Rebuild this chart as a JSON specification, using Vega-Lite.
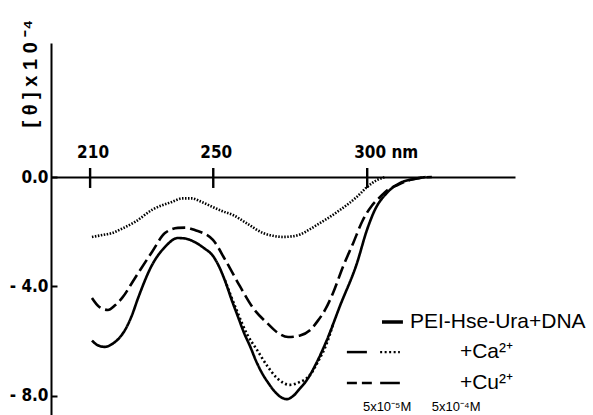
{
  "$schema": "https://vega.github.io/schema/vega-lite/v6.json",
  "width": 464,
  "height": 372,
  "autosize": "none",
  "padding": {"left": 51, "top": 43, "right": 78, "bottom": 0},
  "background": "white",
  "config": {"view": {"stroke": null}},
  "layer": [
    {
      "data": {"values": [
        {"series": "PEI-Hse-Ura+DNA", "nm": 210.6, "v": -5.98},
        {"series": "PEI-Hse-Ura+DNA", "nm": 212.5, "v": -6.15},
        {"series": "PEI-Hse-Ura+DNA", "nm": 214.8, "v": -6.21},
        {"series": "PEI-Hse-Ura+DNA", "nm": 217.5, "v": -6.08},
        {"series": "PEI-Hse-Ura+DNA", "nm": 219.5, "v": -5.88},
        {"series": "PEI-Hse-Ura+DNA", "nm": 221.3, "v": -5.6},
        {"series": "PEI-Hse-Ura+DNA", "nm": 223.5, "v": -5.08},
        {"series": "PEI-Hse-Ura+DNA", "nm": 225.6, "v": -4.42},
        {"series": "PEI-Hse-Ura+DNA", "nm": 230.1, "v": -3.22},
        {"series": "PEI-Hse-Ura+DNA", "nm": 234.3, "v": -2.56},
        {"series": "PEI-Hse-Ura+DNA", "nm": 238.5, "v": -2.23},
        {"series": "PEI-Hse-Ura+DNA", "nm": 241, "v": -2.25},
        {"series": "PEI-Hse-Ura+DNA", "nm": 244, "v": -2.38},
        {"series": "PEI-Hse-Ura+DNA", "nm": 247, "v": -2.6},
        {"series": "PEI-Hse-Ura+DNA", "nm": 250, "v": -2.9},
        {"series": "PEI-Hse-Ura+DNA", "nm": 252, "v": -3.3},
        {"series": "PEI-Hse-Ura+DNA", "nm": 254, "v": -3.85},
        {"series": "PEI-Hse-Ura+DNA", "nm": 256, "v": -4.5},
        {"series": "PEI-Hse-Ura+DNA", "nm": 258, "v": -5.1},
        {"series": "PEI-Hse-Ura+DNA", "nm": 260, "v": -5.7},
        {"series": "PEI-Hse-Ura+DNA", "nm": 262, "v": -6.2},
        {"series": "PEI-Hse-Ura+DNA", "nm": 264, "v": -6.75},
        {"series": "PEI-Hse-Ura+DNA", "nm": 266, "v": -7.2},
        {"series": "PEI-Hse-Ura+DNA", "nm": 268, "v": -7.55},
        {"series": "PEI-Hse-Ura+DNA", "nm": 270, "v": -7.85},
        {"series": "PEI-Hse-Ura+DNA", "nm": 272, "v": -8.05},
        {"series": "PEI-Hse-Ura+DNA", "nm": 274, "v": -8.12},
        {"series": "PEI-Hse-Ura+DNA", "nm": 276, "v": -8.0},
        {"series": "PEI-Hse-Ura+DNA", "nm": 278, "v": -7.75},
        {"series": "PEI-Hse-Ura+DNA", "nm": 280.4, "v": -7.42},
        {"series": "PEI-Hse-Ura+DNA", "nm": 283.5, "v": -6.8},
        {"series": "PEI-Hse-Ura+DNA", "nm": 286.9, "v": -5.96},
        {"series": "PEI-Hse-Ura+DNA", "nm": 291.2, "v": -4.7},
        {"series": "PEI-Hse-Ura+DNA", "nm": 296.7, "v": -3.14},
        {"series": "PEI-Hse-Ura+DNA", "nm": 299.9, "v": -1.94},
        {"series": "PEI-Hse-Ura+DNA", "nm": 302.5, "v": -1.2},
        {"series": "PEI-Hse-Ura+DNA", "nm": 306.4, "v": -0.58},
        {"series": "PEI-Hse-Ura+DNA", "nm": 310.6, "v": -0.22},
        {"series": "PEI-Hse-Ura+DNA", "nm": 314.9, "v": -0.08},
        {"series": "PEI-Hse-Ura+DNA", "nm": 319, "v": 0},

        {"series": "+Cu2+ 5x10-4M", "nm": 210.6, "v": -4.42},
        {"series": "+Cu2+ 5x10-4M", "nm": 213, "v": -4.75},
        {"series": "+Cu2+ 5x10-4M", "nm": 215.8, "v": -4.86},
        {"series": "+Cu2+ 5x10-4M", "nm": 218, "v": -4.7},
        {"series": "+Cu2+ 5x10-4M", "nm": 220.4, "v": -4.42},
        {"series": "+Cu2+ 5x10-4M", "nm": 224.6, "v": -3.69},
        {"series": "+Cu2+ 5x10-4M", "nm": 230.1, "v": -2.74},
        {"series": "+Cu2+ 5x10-4M", "nm": 234.3, "v": -2.05},
        {"series": "+Cu2+ 5x10-4M", "nm": 238.5, "v": -1.86},
        {"series": "+Cu2+ 5x10-4M", "nm": 241, "v": -1.85},
        {"series": "+Cu2+ 5x10-4M", "nm": 244, "v": -1.94},
        {"series": "+Cu2+ 5x10-4M", "nm": 249.9, "v": -2.3},
        {"series": "+Cu2+ 5x10-4M", "nm": 254, "v": -3.05},
        {"series": "+Cu2+ 5x10-4M", "nm": 258.7, "v": -4.0},
        {"series": "+Cu2+ 5x10-4M", "nm": 263, "v": -4.8},
        {"series": "+Cu2+ 5x10-4M", "nm": 267.5, "v": -5.34},
        {"series": "+Cu2+ 5x10-4M", "nm": 271, "v": -5.7},
        {"series": "+Cu2+ 5x10-4M", "nm": 274.3, "v": -5.85},
        {"series": "+Cu2+ 5x10-4M", "nm": 278, "v": -5.8},
        {"series": "+Cu2+ 5x10-4M", "nm": 281.4, "v": -5.6},
        {"series": "+Cu2+ 5x10-4M", "nm": 284, "v": -5.25},
        {"series": "+Cu2+ 5x10-4M", "nm": 286.3, "v": -4.86},
        {"series": "+Cu2+ 5x10-4M", "nm": 288.9, "v": -4.24},
        {"series": "+Cu2+ 5x10-4M", "nm": 292.1, "v": -3.29},
        {"series": "+Cu2+ 5x10-4M", "nm": 295.5, "v": -2.4},
        {"series": "+Cu2+ 5x10-4M", "nm": 298.6, "v": -1.57},
        {"series": "+Cu2+ 5x10-4M", "nm": 301.5, "v": -1.05},
        {"series": "+Cu2+ 5x10-4M", "nm": 304.2, "v": -0.73},
        {"series": "+Cu2+ 5x10-4M", "nm": 306.5, "v": -0.48},
        {"series": "+Cu2+ 5x10-4M", "nm": 309.7, "v": -0.3},
        {"series": "+Cu2+ 5x10-4M", "nm": 314, "v": -0.1},
        {"series": "+Cu2+ 5x10-4M", "nm": 318, "v": -0.02},
        {"series": "+Cu2+ 5x10-4M", "nm": 321, "v": 0},

        {"series": "+Ca2+ 5x10-4M", "nm": 253.8, "v": -3.77},
        {"series": "+Ca2+ 5x10-4M", "nm": 257.7, "v": -4.9},
        {"series": "+Ca2+ 5x10-4M", "nm": 261, "v": -5.75},
        {"series": "+Ca2+ 5x10-4M", "nm": 264.2, "v": -6.32},
        {"series": "+Ca2+ 5x10-4M", "nm": 267.5, "v": -6.9},
        {"series": "+Ca2+ 5x10-4M", "nm": 270.7, "v": -7.35},
        {"series": "+Ca2+ 5x10-4M", "nm": 274.9, "v": -7.6},
        {"series": "+Ca2+ 5x10-4M", "nm": 278, "v": -7.5},
        {"series": "+Ca2+ 5x10-4M", "nm": 281.4, "v": -7.24},
        {"series": "+Ca2+ 5x10-4M", "nm": 284, "v": -6.75},
        {"series": "+Ca2+ 5x10-4M", "nm": 286.9, "v": -6.07},
        {"series": "+Ca2+ 5x10-4M", "nm": 289, "v": -5.35},

        {"series": "dotted (upper)", "nm": 210.6, "v": -2.19},
        {"series": "dotted (upper)", "nm": 214, "v": -2.12},
        {"series": "dotted (upper)", "nm": 217.1, "v": -2.05},
        {"series": "dotted (upper)", "nm": 220.5, "v": -1.88},
        {"series": "dotted (upper)", "nm": 224.6, "v": -1.64},
        {"series": "dotted (upper)", "nm": 230.1, "v": -1.2},
        {"series": "dotted (upper)", "nm": 236.6, "v": -0.91},
        {"series": "dotted (upper)", "nm": 240, "v": -0.78},
        {"series": "dotted (upper)", "nm": 243, "v": -0.78},
        {"series": "dotted (upper)", "nm": 246, "v": -0.9},
        {"series": "dotted (upper)", "nm": 249.9, "v": -1.1},
        {"series": "dotted (upper)", "nm": 253, "v": -1.25},
        {"series": "dotted (upper)", "nm": 256.4, "v": -1.39},
        {"series": "dotted (upper)", "nm": 261, "v": -1.7},
        {"series": "dotted (upper)", "nm": 266.2, "v": -2.05},
        {"series": "dotted (upper)", "nm": 269.5, "v": -2.15},
        {"series": "dotted (upper)", "nm": 272.6, "v": -2.19},
        {"series": "dotted (upper)", "nm": 275.5, "v": -2.17},
        {"series": "dotted (upper)", "nm": 278.2, "v": -2.1},
        {"series": "dotted (upper)", "nm": 281.5, "v": -1.9},
        {"series": "dotted (upper)", "nm": 284.7, "v": -1.68},
        {"series": "dotted (upper)", "nm": 288, "v": -1.45},
        {"series": "dotted (upper)", "nm": 291.2, "v": -1.2},
        {"series": "dotted (upper)", "nm": 294, "v": -0.97},
        {"series": "dotted (upper)", "nm": 296.7, "v": -0.72},
        {"series": "dotted (upper)", "nm": 299.9, "v": -0.37},
        {"series": "dotted (upper)", "nm": 303.2, "v": -0.11},
        {"series": "dotted (upper)", "nm": 306, "v": 0}
      ]},
      "mark": {"type": "line", "interpolate": "monotone", "color": "black"},
      "encoding": {
        "x": {"field": "nm", "type": "quantitative", "title": null,
          "scale": {"domain": [197.3, 348], "nice": false, "zero": false},
          "axis": {"orient": "top", "offset": -134, "values": [210, 250, 300],
            "labelExpr": "datum.value == 300 ? '300 nm' : datum.label",
            "ticks": false, "grid": false, "domainColor": "black", "domainWidth": 2,
            "labelFont": "DejaVu Sans Condensed", "labelFontWeight": "bold", "labelFontSize": 17,
            "labelColor": "black", "labelAlign": "left", "labelOffset": -13.5, "labelPadding": 16,
            "labelFlush": false, "labelOverlap": false}},
        "y": {"field": "v", "type": "quantitative",
          "scale": {"domain": [-8.7, 4.9], "nice": false, "zero": false},
          "axis": {"orient": "left", "values": [0, -4, -8],
            "labelExpr": "datum.value == 0 ? '0.0' : '- ' + format(-datum.value, '.1f')",
            "tickSize": -6, "tickWidth": 2, "tickColor": "black", "grid": false,
            "domainColor": "black", "domainWidth": 2,
            "labelFont": "DejaVu Sans Condensed", "labelFontWeight": "bold", "labelFontSize": 17,
            "labelColor": "black", "labelPadding": 9, "labelFlush": false, "labelOverlap": false,
            "title": "[ θ ] x 1 0 ⁻⁴", "titleFont": "Liberation Sans", "titleFontWeight": "bold",
            "titleFontSize": 20, "titleColor": "black", "titleAngle": 270,
            "titleX": -21, "titleY": 84, "titleAlign": "left", "titleBaseline": "middle"}},
        "strokeDash": {"field": "series", "type": "nominal", "legend": null,
          "scale": {"domain": ["PEI-Hse-Ura+DNA", "+Cu2+ 5x10-4M", "+Ca2+ 5x10-4M", "dotted (upper)"],
            "range": [[1, 0], [13, 5], [2, 2.5], [1.5, 1.5]]}},
        "strokeWidth": {"field": "series", "type": "ordinal", "legend": null,
          "scale": {"domain": ["PEI-Hse-Ura+DNA", "+Cu2+ 5x10-4M", "+Ca2+ 5x10-4M", "dotted (upper)"],
            "range": [2.6, 2.6, 2.2, 1.7]}}
      }
    },
    {
      "data": {"values": [{"nm": 210}, {"nm": 250}, {"nm": 300}]},
      "mark": {"type": "rule", "color": "black", "strokeWidth": 2.4},
      "encoding": {
        "x": {"field": "nm", "type": "quantitative", "title": null},
        "y": {"datum": 0.33},
        "y2": {"datum": -0.4}
      }
    },
    {
      "data": {"values": [{}]},
      "layer": [
        {"mark": {"type": "rule", "color": "black", "strokeWidth": 3.5},
         "encoding": {"x": {"datum": 304.8}, "x2": {"datum": 311.6}, "y": {"datum": -5.3}}},
        {"mark": {"type": "rule", "color": "black", "strokeWidth": 2.5},
         "encoding": {"x": {"datum": 293.4}, "x2": {"datum": 299.9}, "y": {"datum": -6.4}}},
        {"mark": {"type": "rule", "color": "black", "strokeWidth": 2.2, "strokeDash": [2, 2.5]},
         "encoding": {"x": {"datum": 304.2}, "x2": {"datum": 310.6}, "y": {"datum": -6.4}}},
        {"mark": {"type": "rule", "color": "black", "strokeWidth": 2.5, "strokeDash": [10, 5]},
         "encoding": {"x": {"datum": 293.4}, "x2": {"datum": 301.5}, "y": {"datum": -7.53}}},
        {"mark": {"type": "rule", "color": "black", "strokeWidth": 2.5},
         "encoding": {"x": {"datum": 304.2}, "x2": {"datum": 310.6}, "y": {"datum": -7.53}}},
        {"mark": {"type": "text", "text": "PEI-Hse-Ura+DNA", "font": "Liberation Sans", "fontSize": 21, "align": "left", "baseline": "middle", "color": "black"},
         "encoding": {"x": {"datum": 313.9}, "y": {"datum": -5.3}}},
        {"mark": {"type": "text", "text": "+Ca²⁺", "font": "Liberation Sans", "fontSize": 21, "align": "left", "baseline": "middle", "color": "black"},
         "encoding": {"x": {"datum": 330.1}, "y": {"datum": -6.4}}},
        {"mark": {"type": "text", "text": "+Cu²⁺", "font": "Liberation Sans", "fontSize": 21, "align": "left", "baseline": "middle", "color": "black"},
         "encoding": {"x": {"datum": 330.1}, "y": {"datum": -7.53}}},
        {"mark": {"type": "text", "text": "5x10⁻⁵M", "font": "Liberation Sans", "fontSize": 13, "align": "left", "baseline": "middle", "color": "black"},
         "encoding": {"x": {"datum": 298.6}, "y": {"datum": -8.4}}},
        {"mark": {"type": "text", "text": "5x10⁻⁴M", "font": "Liberation Sans", "fontSize": 13, "align": "left", "baseline": "middle", "color": "black"},
         "encoding": {"x": {"datum": 321.0}, "y": {"datum": -8.4}}}
      ]
    }
  ]
}
